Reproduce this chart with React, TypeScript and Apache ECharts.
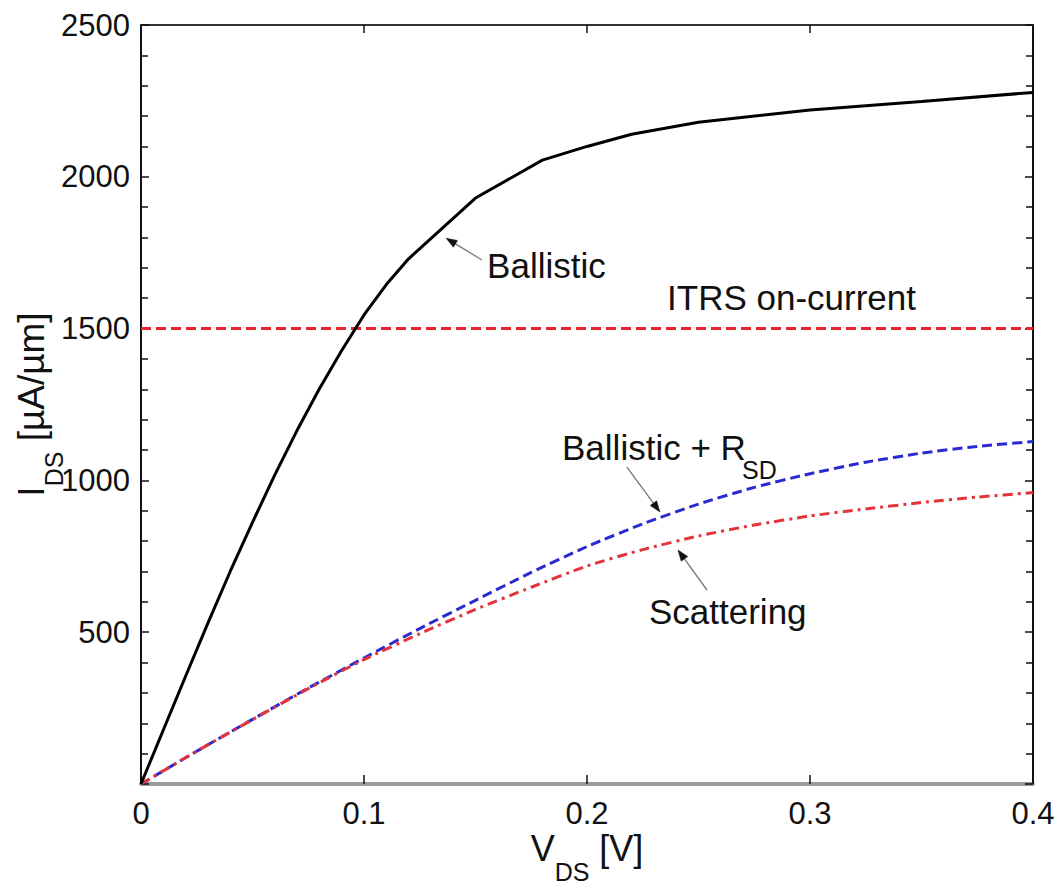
import React, { useEffect, useRef } from "react";
import * as echarts from "echarts";

const FONT = '"Liberation Sans", Arial, Helvetica, sans-serif';

// Ballistic (solid black)
const vBallistic = [0, 0.01, 0.02, 0.03, 0.04, 0.05, 0.06, 0.07, 0.08, 0.09, 0.1, 0.11, 0.12, 0.15, 0.18, 0.2, 0.22, 0.25, 0.3, 0.35, 0.4];
const iBallistic = [0, 178, 355, 530, 700, 862, 1018, 1165, 1302, 1428, 1545, 1645, 1730, 1930, 2055, 2100, 2140, 2180, 2220, 2248, 2278];

// Ballistic + R_SD (blue dashed) and Scattering (red dash-dot)
const vLower = [0, 0.025, 0.05, 0.075, 0.1, 0.125, 0.15, 0.175, 0.2, 0.225, 0.25, 0.275, 0.3, 0.325, 0.35, 0.375, 0.4];
const iBallisticRsd = [0, 108, 213, 316, 415, 512, 605, 697, 782, 857, 922, 977, 1022, 1060, 1090, 1112, 1128];
const iScattering = [0, 108, 212, 314, 410, 495, 575, 648, 718, 772, 817, 853, 883, 906, 927, 945, 960];

// ITRS on-current level
const vItrs = [0, 0.4];
const iItrs = [1500, 1500];

// Annotation texts: [V, I] anchor (left edge, vertical middle)
const labelTexts = ["Ballistic", "ITRS on-current", "Ballistic + R", "Scattering"];
const labelAnchors = [
  [0.1552, 1709],
  [0.2359, 1604],
  [0.1888, 1110],
  [0.2278, 567],
];
const subText = "SD";
const subAnchor = [0.2695, 1034];

// Arrows: tail -> head in data coords
const arrowTails = [
  [0.1529, 1726],
  [0.2179, 1044],
  [0.2538, 639],
];
const arrowHeads = [
  [0.1368, 1798],
  [0.2327, 896],
  [0.2408, 771],
];

const zip = (xs: number[], ys: number[]) => xs.map((x, i) => [x, ys[i]]);

export default function App() {
  const ref = useRef<HTMLDivElement>(null);

  useEffect(() => {
    document.body.style.margin = "0";
    const el = ref.current!;
    const chart = echarts.init(el, null, { renderer: "svg" });

    const tickColor = "#111";
    const option: any = {
      animation: false,
      backgroundColor: "#fff",
      grid: { left: 141, right: 26, top: 25, bottom: 100, containLabel: false, outerBoundsMode: "none" },
      xAxis: [
        {
          type: "value",
          min: 0,
          max: 0.4,
          interval: 0.1,
          position: "bottom",
          name: "{a|V}{b|DS}{a| [V]}",
          nameLocation: "middle",
          nameGap: 64,
          nameMoveOverlap: false,
          nameTextStyle: {
            rich: {
              a: { fontSize: 36, lineHeight: 36, padding: [0, 0, 18, 0], verticalAlign: "bottom", fontFamily: FONT, color: "#111" },
              b: { fontSize: 25, lineHeight: 20, verticalAlign: "bottom", fontFamily: FONT, color: "#111" },
            },
          },
          axisLine: { show: true, onZero: false, lineStyle: { color: "#9a9a9a", width: 4 } },
          axisTick: { show: true, inside: true, length: 9, lineStyle: { color: tickColor, width: 1.5 } },
          axisLabel: { show: true, margin: 14, fontSize: 31, fontFamily: FONT, color: "#111" },
          splitLine: { show: false },
        },
        {
          type: "value",
          min: 0,
          max: 0.4,
          interval: 0.1,
          position: "top",
          axisLine: { show: true, onZero: false, lineStyle: { color: "#333", width: 2 } },
          axisTick: { show: true, inside: true, length: 8, lineStyle: { color: tickColor, width: 1.5 } },
          axisLabel: { show: false },
          splitLine: { show: false },
        },
      ],
      yAxis: [
        {
          type: "value",
          min: 0,
          max: 2500,
          interval: 500,
          position: "left",
          name: "{a|I}{b|DS}{a| [µA/µm]}",
          nameLocation: "middle",
          nameGap: 75,
          nameMoveOverlap: false,
          nameTextStyle: {
            rich: {
              a: { fontSize: 37, lineHeight: 36, padding: [0, 0, 16, 0], verticalAlign: "bottom", fontFamily: FONT, color: "#111" },
              b: { fontSize: 25, lineHeight: 25, verticalAlign: "bottom", fontFamily: FONT, color: "#111" },
            },
          },
          axisLine: { show: true, onZero: false, lineStyle: { color: "#111", width: 2 } },
          axisTick: { show: true, inside: true, length: 8, lineStyle: { color: tickColor, width: 1.5 } },
          minorTick: { show: true, splitNumber: 5, length: 7, lineStyle: { color: tickColor, width: 1.5 } },
          axisLabel: {
            show: true,
            margin: 11,
            fontSize: 31,
            fontFamily: FONT,
            color: "#111",
            formatter: (v: number) => (v === 0 ? "" : String(v)),
          },
          splitLine: { show: false },
          minorSplitLine: { show: false },
        },
        {
          type: "value",
          min: 0,
          max: 2500,
          interval: 500,
          position: "right",
          axisLine: { show: true, onZero: false, lineStyle: { color: "#111", width: 2 } },
          axisTick: { show: true, inside: true, length: 8, lineStyle: { color: tickColor, width: 1.5 } },
          minorTick: { show: true, splitNumber: 5, length: 7, lineStyle: { color: tickColor, width: 1.5 } },
          axisLabel: { show: false },
          splitLine: { show: false },
          minorSplitLine: { show: false },
        },
      ],
      series: [
        {
          name: "ITRS on-current",
          type: "line",
          data: zip(vItrs, iItrs),
          showSymbol: false,
          symbol: "none",
          lineStyle: { color: "#e8242a", width: 3, type: [10, 5] },
          z: 2,
        },
        {
          name: "Ballistic + R_SD",
          type: "line",
          data: zip(vLower, iBallisticRsd),
          smooth: 0.2,
          symbol: "none",
          lineStyle: { color: "#2a2ad2", width: 3, type: [10, 5] },
          z: 3,
        },
        {
          name: "Scattering",
          type: "line",
          data: zip(vLower, iScattering),
          smooth: 0.2,
          symbol: "none",
          lineStyle: { color: "#e2343a", width: 3, type: [10, 5, 3, 5] },
          z: 4,
        },
        {
          name: "Ballistic",
          type: "line",
          data: zip(vBallistic, iBallistic),
          symbol: "none",
          lineStyle: { color: "#000", width: 3 },
          z: 5,
        },
      ],
    };

    chart.setOption(option);

    const toPx = (p: number[]) => chart.convertToPixel({ xAxisIndex: 0, yAxisIndex: 0 }, p) as number[];
    const graphics: any[] = [];

    labelTexts.forEach((t, i) => {
      const [x, y] = toPx(labelAnchors[i]);
      graphics.push({
        type: "text",
        x,
        y,
        z: 10,
        style: {
          text: t,
          font: `35px ${FONT}`,
          fill: "#111",
          align: "left",
          verticalAlign: "middle",
          textAlign: "left",
          textVerticalAlign: "middle",
        },
      });
    });
    {
      const [x, y] = toPx(subAnchor);
      graphics.push({
        type: "text",
        x,
        y,
        z: 10,
        style: {
          text: subText,
          font: `25px ${FONT}`,
          fill: "#111",
          align: "left",
          verticalAlign: "middle",
          textAlign: "left",
          textVerticalAlign: "middle",
        },
      });
    }

    arrowTails.forEach((tail, i) => {
      const [x1, y1] = toPx(tail);
      const [x2, y2] = toPx(arrowHeads[i]);
      const dx = x2 - x1;
      const dy = y2 - y1;
      const len = Math.sqrt(dx * dx + dy * dy);
      const ux = dx / len;
      const uy = dy / len;
      const L = 11;
      const W = 4;
      const bx = x2 - ux * L;
      const by = y2 - uy * L;
      graphics.push({
        type: "line",
        z: 10,
        shape: { x1, y1, x2: bx, y2: by },
        style: { stroke: "#777", lineWidth: 1.3 },
      });
      graphics.push({
        type: "polygon",
        z: 10,
        shape: {
          points: [
            [x2, y2],
            [bx - uy * W, by + ux * W],
            [bx + uy * W, by - ux * W],
          ],
        },
        style: { fill: "#111", stroke: "#111", lineWidth: 0.5 },
      });
    });

    chart.setOption({ graphic: graphics });

    return () => {
      chart.dispose();
    };
  }, []);

  return <div ref={ref} style={{ width: 1059, height: 884 }} />;
}
